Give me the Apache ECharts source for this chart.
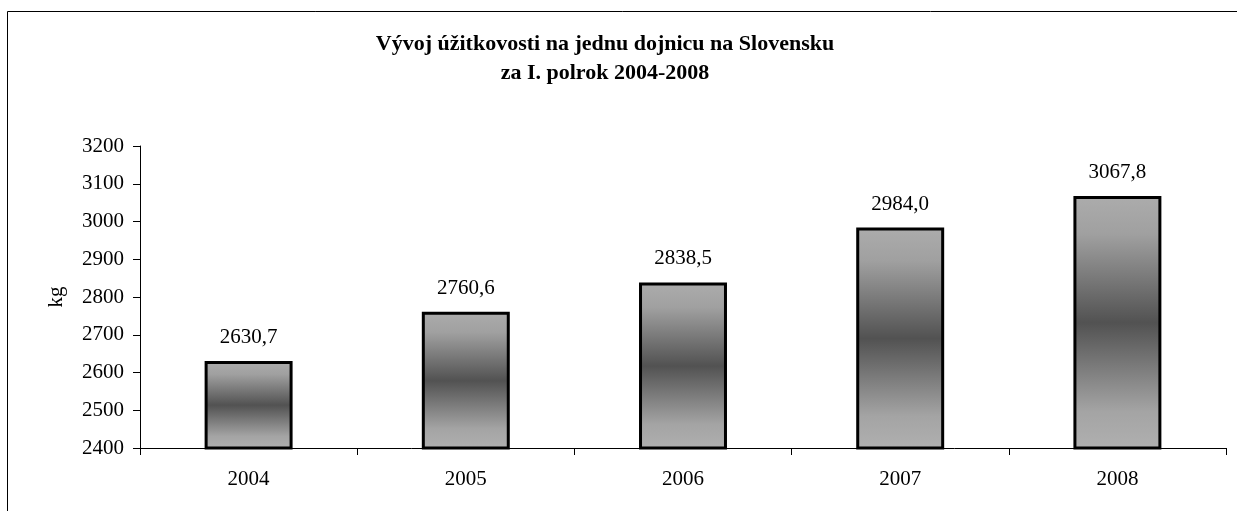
<!DOCTYPE html>
<html>
<head>
<meta charset="utf-8">
<script src="https://cdn.jsdelivr.net/npm/echarts@6/dist/echarts.min.js"></script>
<style>
html,body{margin:0;padding:0;background:#fff;}
#chart{width:1237px;height:511px;}
</style>
</head>
<body>
<div id="chart"></div>
<script>
const titleLines = ['Vývoj úžitkovosti na jednu dojnicu na Slovensku', 'za I. polrok 2004-2008'];
const categories = ['2004', '2005', '2006', '2007', '2008'];
const values = [2630.7, 2760.6, 2838.5, 2984.0, 3067.8];
const yAxisName = 'kg';
const yMin = 2400, yMax = 3200, yInterval = 100;

const font = '"Liberation Serif", "Times New Roman", serif';
const chart = echarts.init(document.getElementById('chart'), null, {renderer: 'canvas'});
chart.setOption({
  animation: false,
  backgroundColor: '#fff',
  graphic: [{
    type: 'rect',
    shape: {x: 7.5, y: 11.5, width: 1250, height: 520},
    style: {fill: 'none', stroke: '#000', lineWidth: 1},
    silent: true
  }],
  title: {
    text: titleLines.join('\n'),
    left: 600,
    top: 25,
    textAlign: 'center',
    textStyle: {fontFamily: font, fontWeight: 'bold', fontSize: 22, lineHeight: 29, color: '#000'}
  },
  grid: {left: 140, right: 11, top: 146, bottom: 63},
  xAxis: {
    type: 'category',
    data: categories,
    axisLine: {lineStyle: {color: '#000', width: 1}},
    axisTick: {show: true, length: 7, alignWithLabel: false, lineStyle: {color: '#000'}},
    axisLabel: {fontFamily: font, fontSize: 21, color: '#000', margin: 21}
  },
  yAxis: {
    type: 'value',
    min: yMin, max: yMax, interval: yInterval,
    name: yAxisName,
    nameLocation: 'middle',
    nameGap: 73,
    nameRotate: 90,
    nameTextStyle: {fontFamily: font, fontSize: 21, color: '#000'},
    axisLine: {show: true, lineStyle: {color: '#000', width: 1}},
    axisTick: {show: true, length: 7, lineStyle: {color: '#000'}},
    splitLine: {show: false},
    axisLabel: {fontFamily: font, fontSize: 21, color: '#000', margin: 16, formatter: v => String(v)}
  },
  series: [{
    type: 'bar',
    data: values,
    barWidth: '40.5%',
    itemStyle: {
      borderColor: '#000',
      borderWidth: 3,
      color: new echarts.graphic.LinearGradient(0, 0, 0, 1, [
        {offset: 0, color: '#acacac'},
        {offset: 0.15, color: '#a0a0a0'},
        {offset: 0.5, color: '#525252'},
        {offset: 0.85, color: '#a4a4a4'},
        {offset: 1, color: '#b0b0b0'}
      ])
    },
    label: {
      show: true,
      position: 'top',
      distance: 13,
      fontFamily: font,
      fontSize: 21,
      color: '#000',
      formatter: p => p.value.toFixed(1).replace('.', ',')
    }
  }]
});
</script>
</body>
</html>
